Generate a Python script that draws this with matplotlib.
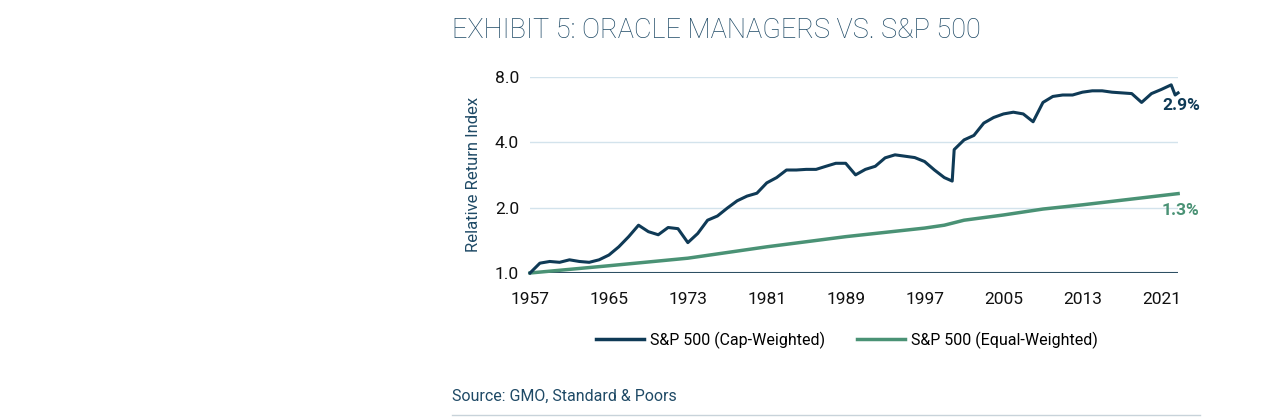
import matplotlib
matplotlib.use("Agg")
import matplotlib.pyplot as plt
from matplotlib.lines import Line2D

cap_years = [1957, 1958, 1959, 1960, 1961, 1962, 1963, 1964, 1965, 1966, 1967, 1968, 1969, 1970,
             1971, 1972, 1973, 1974, 1975, 1976, 1977, 1978, 1979, 1980, 1981, 1982, 1983, 1984,
             1985, 1986, 1987, 1988, 1989, 1990, 1991, 1992, 1993, 1994, 1995, 1996, 1997, 1998,
             1999, 1999.8, 2000, 2001, 2002, 2003, 2004, 2005, 2006, 2007, 2008, 2009, 2010, 2011,
             2012, 2013, 2014, 2015, 2016, 2017, 2018, 2019, 2020, 2021, 2022, 2022.4, 2022.7]
cap_values = [1.0, 1.11, 1.13, 1.12, 1.15, 1.13, 1.12, 1.15, 1.21, 1.32, 1.47, 1.66, 1.55, 1.50,
              1.62, 1.60, 1.38, 1.52, 1.75, 1.83, 1.99, 2.15, 2.26, 2.33, 2.60, 2.75, 2.98, 2.98,
              3.0, 3.0, 3.1, 3.2, 3.2, 2.83, 3.0, 3.1, 3.39, 3.5, 3.45, 3.4, 3.26, 2.98,
              2.75, 2.65, 3.70, 4.1, 4.3, 4.9, 5.2, 5.4, 5.5, 5.4, 4.97, 6.1, 6.5, 6.6,
              6.6, 6.8, 6.9, 6.9, 6.8, 6.75, 6.7, 6.1, 6.7, 7.0, 7.35, 6.6, 6.75]

eq_years = [1957, 1965, 1973, 1981, 1989, 1997, 1999, 2001, 2005, 2009, 2013, 2022.7]
eq_values = [1.0, 1.08, 1.17, 1.32, 1.47, 1.61, 1.66, 1.75, 1.85, 1.97, 2.06, 2.32]

x_ticks = [1957, 1965, 1973, 1981, 1989, 1997, 2005, 2013, 2021]
y_ticks = [1.0, 2.0, 4.0, 8.0]

navy = "#0f3a56"
green = "#4a9275"
txt = "#1f4a66"

plt.rcParams['font.family'] = ['Roboto', 'DejaVu Sans']
fig = plt.figure(figsize=(12.75, 4.2), dpi=100)
ax = fig.add_axes([0.4157, 0.35, 0.924 - 0.4157, 0.817 - 0.35])
ax.set_yscale('log')
ax.set_ylim(1.0, 8.0)
ax.set_xlim(1957, 2022.7)
for v in y_ticks[1:]:
    ax.axhline(v, color="#d3e3ec", lw=1, zorder=0)
ax.axhline(1.0, color="#2d4f63", lw=1.5, zorder=1)
ax.plot(eq_years, eq_values, color=green, lw=2.5, zorder=2, clip_on=False)
ax.plot(cap_years, cap_values, color=navy, lw=2.2, zorder=3, clip_on=False)
ax.set_yticks(y_ticks)
ax.set_yticklabels([f"{v:.1f}" for v in y_ticks])
ax.minorticks_off()
ax.set_xticks(x_ticks)
ax.set_xticklabels([str(t) for t in x_ticks])
ax.tick_params(axis='y', length=0, labelsize=12.5, colors="#111111", pad=8)
ax.tick_params(axis='x', length=0, labelsize=12.5, colors="#111111", pad=14)
for s in ax.spines.values():
    s.set_visible(False)
ax.set_ylabel("Relative Return Index", fontsize=12, color=txt, labelpad=10)
ax.text(0.975, 5.9, "2.9%", transform=ax.get_yaxis_transform(),
        ha='left', va='center', color=navy, fontsize=12.5, fontweight='bold')
ax.text(0.975, 1.95, "1.3%", transform=ax.get_yaxis_transform(),
        ha='left', va='center', color=green, fontsize=12.5, fontweight='bold')

fig.text(452/1275, 1 - 30/420, "EXHIBIT 5: ORACLE MANAGERS VS. S&P 500", fontsize=19.5,
         color=txt, fontweight='light', va='center', ha='left')
handles = [Line2D([], [], color=navy, lw=2.5), Line2D([], [], color=green, lw=2.5)]
fig.legend(handles, ["S&P 500 (Cap-Weighted)", "S&P 500 (Equal-Weighted)"],
           loc='center', bbox_to_anchor=(847/1275, 1 - 340/420), ncol=2, frameon=False,
           fontsize=11.5, handlelength=3.0, columnspacing=2.0, handletextpad=0.4)
fig.text(452/1275, 1 - 396/420, "Source: GMO, Standard & Poors", fontsize=11.5,
         color=txt, va='center', ha='left')
fig.add_artist(Line2D([452/1275, 1200/1275], [1 - 415/420] * 2, color="#c8d3da", lw=1))
fig.savefig("out.png", dpi=100)
